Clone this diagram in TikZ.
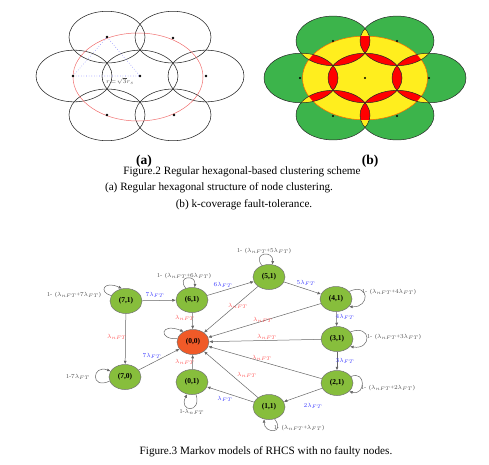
\documentclass[tikz,border=0pt]{standalone}
\usepackage{fontspec}
\setmainfont{Liberation Serif}
\usetikzlibrary{shapes.geometric,arrows.meta}
\definecolor{ngreen}{RGB}{135,190,60}
\definecolor{norange}{RGB}{240,90,40}
\definecolor{kgreen}{RGB}{60,180,75}
\definecolor{kyellow}{RGB}{255,238,30}
\definecolor{kred}{RGB}{255,0,0}
\definecolor{lblue}{RGB}{60,60,255}
\definecolor{lred}{RGB}{255,85,85}
\definecolor{lgray}{RGB}{80,80,80}
\definecolor{pinkline}{RGB}{240,110,110}
\begin{document}
\begin{tikzpicture}[x=1pt,y=-1pt,
  acirc/.style={draw=black!85,line width=0.55pt},
  st/.style={ellipse,draw=black!55,line width=0.5pt,fill=ngreen,minimum width=32pt,minimum height=25pt,inner sep=0pt,font=\fontsize{7.5}{8}\selectfont\bfseries},
  arr/.style={draw=black!60,line width=0.5pt,-{Latex[length=3.5pt,width=3pt]}},
  lb/.style={font=\fontsize{6}{7}\selectfont,text=lblue,inner sep=0.5pt},
  lr/.style={font=\fontsize{6}{7}\selectfont,text=lred,inner sep=0.5pt},
  lk/.style={font=\fontsize{6}{7}\selectfont,text=lgray,inner sep=0.5pt},
  captxt/.style={font=\fontsize{11.2}{13}\selectfont,inner sep=0pt},
  sublab/.style={font=\fontsize{13.5}{15}\selectfont\bfseries,inner sep=0pt}]
\useasboundingbox (0,0) rectangle (489,464);
% ---------- (a) ----------
\begin{scope}[shift={(140,76)},yscale=0.68]
  \foreach \a in {0,60,...,300} \draw[acirc] (\a:66) circle (38);
  \draw[acirc] (0,0) circle (38);
\end{scope}
\draw[pinkline,line width=0.5pt] (138,77) ellipse [x radius=65,y radius=44];
\draw[blue!45,dotted,line width=0.6pt] (73,76) -- (107,37) -- (140,76) -- cycle;
\foreach \p in {(140,76),(73,76),(206,76),(107,37),(173,38),(107,115),(174,115)} \fill \p circle (1.3);
\node[font=\fontsize{6.5}{7}\selectfont,text=black!70,inner sep=0pt] (rl) at (120,81) {$r\!=\!\sqrt{3}r_s$};
% ---------- (b) ----------
\begin{scope}[shift={(365,78)},yscale=0.67]
  \coordinate (c0) at (0,0);
  \foreach \k in {1,...,6} \coordinate (c\k) at ({(\k-1)*60}:64);
  \foreach \k in {1,...,6} \fill[kgreen] (c\k) circle (37);
  \fill[kyellow] (0,0) circle (62.5);
  \draw[orange!80!red,line width=0.5pt] (0,0) circle (62.5);
  \foreach \i/\j in {0/1,0/2,0/3,0/4,0/5,0/6,1/2,2/3,3/4,4/5,5/6,6/1} {
    \begin{scope}
      \clip (c\i) circle (37);
      \fill[kyellow] (c\j) circle (37);
      \clip (0,0) circle (62.5);
      \fill[kred] (c\j) circle (37);
    \end{scope}
  }
  \foreach \k in {0,...,6} \draw[black!85,line width=0.5pt] (c\k) circle (37);
\end{scope}
\foreach \p in {(365,78),(300,78),(429,78),(333,41),(397,41),(333,116),(397,116)} \fill \p circle (1.2);
% ---------- captions ----------
\node[sublab] (ta) at (144,161) {(a)};
\node[sublab] (tb) at (370,161) {(b)};
\node[captxt] (t2) at (242,172) {Figure.2 Regular hexagonal-based clustering scheme};
\node[captxt] (t2a) at (219,188) {(a) Regular hexagonal structure of node clustering.};
\node[captxt] (t2b) at (244,205) {(b) k-coverage fault-tolerance.};
\node[captxt] (t3) at (266,452) {Figure.3 Markov models of RHCS with no faulty nodes.};
% ---------- Markov ----------
\node[st] (n71) at (126,301) {(7,1)};
\node[st] (n61) at (192,300) {(6,1)};
\node[st] (n51) at (269,277) {(5,1)};
\node[st] (n41) at (336,299) {(4,1)};
\node[st] (n31) at (337,339) {(3,1)};
\node[st] (n21) at (337,383) {(2,1)};
\node[st] (n11) at (269,407) {(1,1)};
\node[st] (n01) at (192,382) {(0,1)};
\node[st] (n70) at (125,377) {(7,0)};
\node[st,fill=norange] (n00) at (193,342) {(0,0)};
\draw[arr] (n71) -- (n61);
\draw[arr] (n61) -- (n51);
\draw[arr] (n51) -- (n41);
\draw[arr] (n41) -- (n31);
\draw[arr] (n31) -- (n21);
\draw[arr] (n21) -- (n11);
\draw[arr] (n11) -- (n01);
\draw[arr] (n71) -- (n70);
\draw[arr] (n70) -- (n00);
\foreach \n in {n61,n51,n41,n31,n21,n11,n01} \draw[arr] (\n) -- (n00);
% loops
\draw[arr] (n71.160) .. controls (98,292) and (104,280) .. (n71.108);
\draw[arr] (n61.118) .. controls (176,276) and (196,274) .. (n61.78);
\draw[arr] (n51.122) .. controls (252,252) and (274,250) .. (n51.75);
\draw[arr] (n41.30) .. controls (370,282) and (370,308) .. (n41.-30);
\draw[arr] (n31.28) .. controls (372,324) and (372,350) .. (n31.-30);
\draw[arr] (n21.25) .. controls (366,370) and (366,396) .. (n21.-35);
\draw[arr] (n11.-65) .. controls (286,434) and (264,434) .. (n11.-112);
\draw[arr] (n01.-72) .. controls (202,414) and (178,412) .. (n01.-112);
\draw[arr] (n70.-165) .. controls (90,390) and (92,364) .. (n70.158);
\draw[arr] (n00.168) .. controls (158,340) and (160,322) .. (n00.132);
% edge labels
\node[lb] (e76) at (155,295) {$7\lambda_{FT}$};
\node[lb] (e65) at (223,285) {$6\lambda_{FT}$};
\node[lb] (e54) at (306,283) {$5\lambda_{FT}$};
\node[lb] (e43) at (345,317) {$4\lambda_{FT}$};
\node[lb] (e32) at (345,361) {$3\lambda_{FT}$};
\node[lb] (e21) at (313,406) {$2\lambda_{FT}$};
\node[lb] (e10) at (225,399) {$\lambda_{FT}$};
\node[lb] (e70) at (152,356) {$7\lambda_{FT}$};
\node[lr] (r71) at (117,337) {$\lambda_{nFT}$};
\node[lr] (r61) at (185,318) {$\lambda_{nFT}$};
\node[lr] (r51) at (238,306) {$\lambda_{nFT}$};
\node[lr] (r41) at (263,320) {$\lambda_{nFT}$};
\node[lr] (r31) at (267,337) {$\lambda_{nFT}$};
\node[lr] (r21) at (262,358) {$\lambda_{nFT}$};
\node[lr] (r11) at (247,375) {$\lambda_{nFT}$};
\node[lr] (r01) at (185,362) {$\lambda_{nFT}$};
% loop labels
\node[lk] (q71) at (74,295) {1-~~($\lambda_{nFT}$+$7\lambda_{FT}$)};
\node[lk] (q61) at (184,276) {1-~~($\lambda_{nFT}$+$6\lambda_{FT}$)};
\node[lk] (q51) at (264,251) {1-~~($\lambda_{nFT}$+$5\lambda_{FT}$)};
\node[lk] (q41) at (389,292) {1-~~($\lambda_{nFT}$+$4\lambda_{FT}$)};
\node[lk] (q31) at (394,337) {1-~~($\lambda_{nFT}$+$3\lambda_{FT}$)};
\node[lk] (q21) at (388,388) {1-~~($\lambda_{nFT}$+$2\lambda_{FT}$)};
\node[lk] (q11) at (299,428) {1-~~($\lambda_{nFT}$+$\lambda_{FT}$)};
\node[lk] (q01) at (192,412) {1-$\lambda_{nFT}$};
\node[lk] (q70) at (78,377) {1-$7\lambda_{FT}$};
\end{tikzpicture}
\end{document}
